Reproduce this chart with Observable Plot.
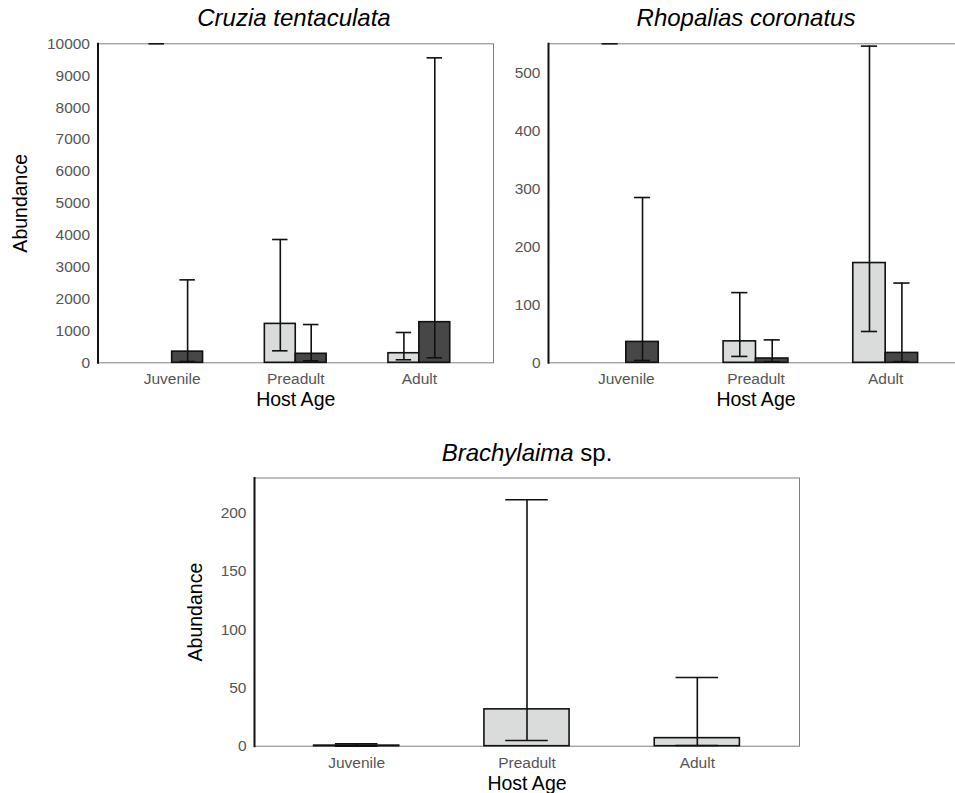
<!DOCTYPE html>
<html>
<head>
<meta charset="utf-8">
<script src="https://cdn.jsdelivr.net/npm/d3@7"></script>
<script src="https://cdn.jsdelivr.net/npm/@observablehq/plot@0.6"></script>
<style>
html, body { margin: 0; padding: 0; background: #fff; overflow: hidden; }
#root { position: relative; width: 955px; height: 793px; overflow: hidden; background: #fff;
  font-family: "Liberation Sans", Arial, Helvetica, sans-serif; }
.panel { position: absolute; }
.panel svg { display: block; max-width: none !important; }
.title { position: absolute; width: 400px; text-align: center; font-size: 24px; line-height: 24px;
  color: #000; white-space: nowrap; }
</style>
</head>
<body>
<div id="root"></div>
<script>
// ---- categories ----
const ages = ["Juvenile", "Preadult", "Adult"];

// ---- Cruzia tentaculata (two host groups: light, dark) ----
const cruziaLightMean  = [0, 1220, 300];
const cruziaLightLower = [null, 376, 94];
const cruziaLightUpper = [10000, 3865, 950];
const cruziaDarkMean   = [350, 282, 1273];
const cruziaDarkLower  = [40, 63, 157];
const cruziaDarkUpper  = [2600, 1200, 9560];
const cruziaTicks = [0, 1000, 2000, 3000, 4000, 5000, 6000, 7000, 8000, 9000, 10000];

// ---- Rhopalias coronatus ----
const rhopLightMean  = [0, 37, 172];
const rhopLightLower = [null, 11, 54];
const rhopLightUpper = [550, 121, 546];
const rhopDarkMean   = [36, 7.4, 17];
const rhopDarkLower  = [4, 2, 2];
const rhopDarkUpper  = [285, 39.5, 137.5];
const rhopTicks = [0, 100, 200, 300, 400, 500];

// ---- Brachylaima sp. (one group) ----
const brachyMean  = [0.5, 31.6, 6.9];
const brachyLower = [0, 4.9, 0.6];
const brachyUpper = [2, 211.4, 58.9];
const brachyTicks = [0, 50, 100, 150, 200];

const LIGHT = "#d9dcdb";
const DARK = "#474747";
const FONT = "'Liberation Sans', Arial, Helvetica, sans-serif";

function makePanel(o) {
  const {series, yDomain, yTicks, width, height, ml, mr, mt, mb, yTitleDx} = o;
  const xOpts = {type: "band", domain: ages, paddingInner: 0.5, paddingOuter: 0.35, round: false};
  const xs = Plot.scale({x: {...xOpts, range: [ml, width - mr]}});
  const bw = xs.bandwidth;
  const n = series.length;
  const barW = bw / n;
  const marks = [Plot.frame({stroke: "#7f7f7f", strokeWidth: 1})];
  series.forEach((s, gi) => {
    const rows = ages.map((age, i) => ({age, mean: s.mean[i], lower: s.lower[i], upper: s.upper[i]}));
    const insL = gi * barW, insR = bw - (gi + 1) * barW;
    const c = (gi + 0.5) * barW;
    const capL = c - barW / 4, capR = bw - (c + barW / 4);
    marks.push(Plot.barY(rows, {x: "age", y1: 0, y2: "mean", insetLeft: insL, insetRight: insR,
      fill: s.fill, stroke: "#111", strokeWidth: 1.6}));
    marks.push(Plot.ruleX(rows.filter(d => d.lower != null), {x: "age", y1: "lower", y2: "upper",
      dx: c - bw / 2, stroke: "#111", strokeWidth: 1.6}));
    marks.push(Plot.tickY(rows.filter(d => d.lower != null), {x: "age", y: "lower",
      insetLeft: capL, insetRight: capR, stroke: "#111", strokeWidth: 1.6}));
    marks.push(Plot.tickY(rows.filter(d => d.upper != null), {x: "age", y: "upper",
      insetLeft: capL, insetRight: capR, stroke: "#111", strokeWidth: 1.6}));
  });
  marks.push(Plot.frame({anchor: "left", stroke: "#111", strokeWidth: 2}));
  marks.push(Plot.axisX({tickSize: 0, tickPadding: 10.5, fontSize: 15.5, color: "#555", label: null}));
  marks.push(Plot.axisY({ticks: yTicks, tickSize: 0, tickPadding: 8, fontSize: 15.5, color: "#555",
    label: null, tickFormat: d => String(d)}));
  marks.push(Plot.text(["Host Age"], {frameAnchor: "bottom", text: d => d, dy: 29.5, lineAnchor: "top",
    textAnchor: "middle", fontSize: 19.5, fill: "#000"}));
  if (yTitleDx != null) {
    marks.push(Plot.text(["Abundance"], {frameAnchor: "left", text: d => d, rotate: -90, dx: yTitleDx,
      lineAnchor: "top", textAnchor: "middle", fontSize: 19.5, fill: "#000"}));
  }
  return Plot.plot({
    width, height, marginLeft: ml, marginRight: mr, marginTop: mt, marginBottom: mb,
    x: xOpts,
    y: {domain: yDomain},
    style: {fontFamily: FONT, background: "transparent", overflow: "visible", maxWidth: "none"},
    marks
  });
}

const root = document.getElementById("root");
function place(el, left, top, w, h) {
  const d = document.createElement("div");
  d.className = "panel";
  d.style.left = left + "px";
  d.style.top = top + "px";
  d.style.width = w + "px";
  d.style.height = h + "px";
  d.appendChild(el);
  root.appendChild(d);
}
function title(html, center, top) {
  const d = document.createElement("div");
  d.className = "title";
  d.style.left = (center - 200) + "px";
  d.style.top = top + "px";
  d.innerHTML = html;
  root.appendChild(d);
}

place(makePanel({
  series: [
    {mean: cruziaLightMean, lower: cruziaLightLower, upper: cruziaLightUpper, fill: LIGHT},
    {mean: cruziaDarkMean, lower: cruziaDarkLower, upper: cruziaDarkUpper, fill: DARK}
  ],
  yDomain: [0, 10000], yTicks: cruziaTicks,
  width: 500, height: 385, ml: 97.5, mr: 7, mt: 13.3, mb: 52.7, yTitleDx: -84.5
}), 0, 30, 500, 385);

place(makePanel({
  series: [
    {mean: rhopLightMean, lower: rhopLightLower, upper: rhopLightUpper, fill: LIGHT},
    {mean: rhopDarkMean, lower: rhopDarkLower, upper: rhopDarkUpper, fill: DARK}
  ],
  yDomain: [0, 550], yTicks: rhopTicks,
  width: 463, height: 385, ml: 48, mr: 0, mt: 13.3, mb: 52.7, yTitleDx: null
}), 500, 30, 463, 385);

place(makePanel({
  series: [
    {mean: brachyMean, lower: brachyLower, upper: brachyUpper, fill: LIGHT}
  ],
  yDomain: [0, 230], yTicks: brachyTicks,
  width: 620, height: 333, ml: 74, mr: 1, mt: 17.5, mb: 47.3, yTitleDx: -66.7
}), 180, 460, 620, 333);

title("<i>Cruzia tentaculata</i>", 294, 6.4);
title("<i>Rhopalias coronatus</i>", 746, 6.4);
title("<i>Brachylaima</i> sp.", 527, 441.4);
</script>
</body>
</html>
